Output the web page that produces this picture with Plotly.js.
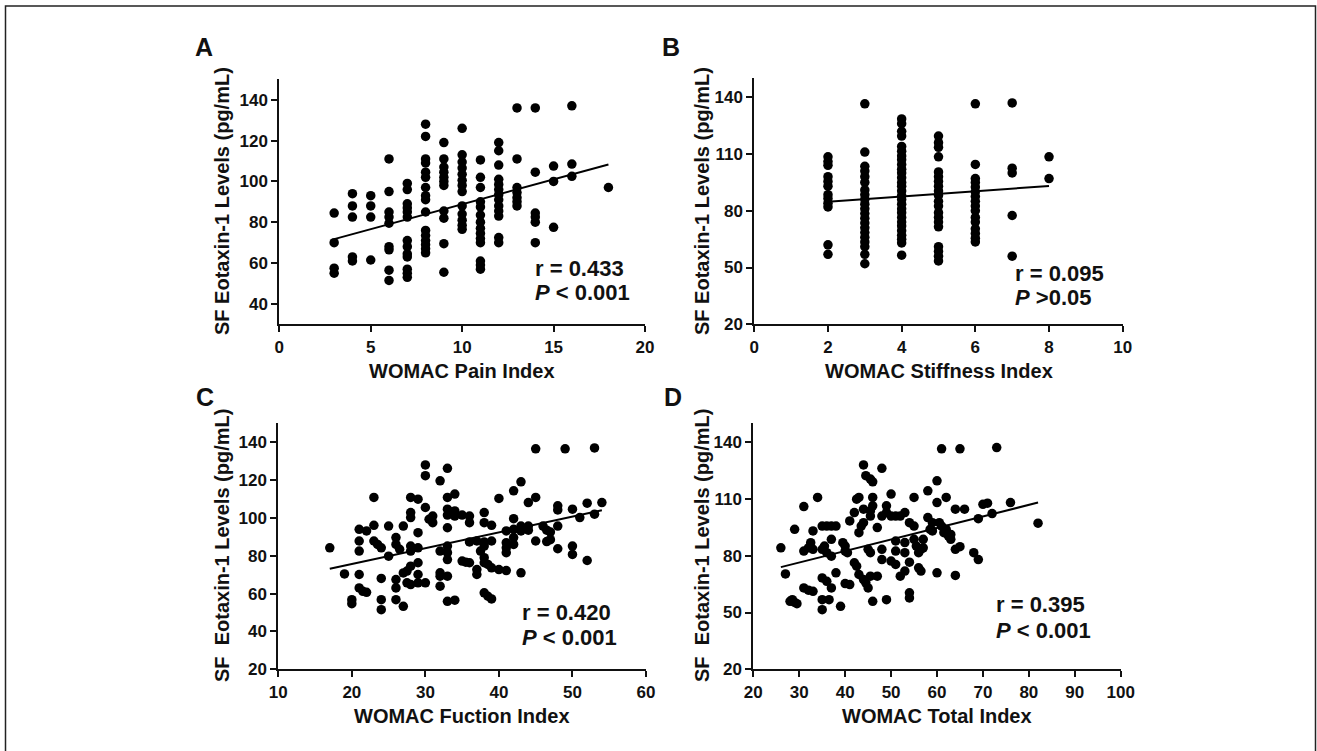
<!DOCTYPE html>
<html>
<head>
<meta charset="utf-8">
<script src="https://cdn.plot.ly/plotly-3.0.1.min.js"></script>
<style>
html,body{margin:0;padding:0;background:#fff;overflow:hidden;}
#chart{width:1317px;height:751px;}
</style>
</head>
<body>
<div id="chart"></div>
<script>
// ---------------- DATA ----------------
const painIndex = [
3,3,3,3,
4,4,4,4,4,
5,5,5,5,
6,6,6,6,6,6,6,6,6,
7,7,7,7,7,7,7,7,7,7,7,7,7,
8,8,8,8,8,8,8,8,8,8,8,8,8,8,8,8,
9,9,9,9,9,9,9,9,9,9,9,
10,10,10,10,10,10,10,10,10,10,10,10,10,
11,11,11,11,11,11,11,11,11,11,11,11,11,11,
12,12,12,12,12,12,12,12,12,12,12,12,12,
13,13,13,13,13,13,13,
14,14,14,14,14,14,
15,15,15,
16,16,16,
18];
const painEotaxin = [
84.5,70,57.5,55,
94,88,82.5,63,61,
93,88,82.5,61.5,
111,95,85,82.5,79.5,68,66.5,56.5,51.5,
99,96,89,87,85,82.5,71,68,64.5,63,57,55,53,
128,122,111,109,104.5,102,97,93,91,85,76,73.5,71,69,67,65,
119,111,107,104.5,102,100,98,85.5,82,69.5,55.5,
126,113,109.5,106.5,103.5,100.5,98,95,88,84,81,78.5,76.5,
110.5,102,97,90,87.5,83.5,80,77,74.5,72,70,61,59,57,
119,115,108,101,98.5,96,93.5,91,88,85.5,83,72.5,70,
136,111,97,94.5,92,90,88,
136,104.5,84.5,82.5,80,70,
107.5,100,77.5,
137,108.5,102.5,
97];
const painFitX = [3, 18];
const painFitY = [71.7, 108.3];

const stiffIndex = [
2,2,2,2,2,2,2,2,2,2,2,2,
3,3,3,3,3,3,3,3,3,3,3,3,3,3,3,3,3,3,3,3,3,
4,4,4,4,4,4,4,4,4,4,4,4,4,4,4,4,4,4,4,4,4,4,4,4,4,4,4,4,
5,5,5,5,5,5,5,5,5,5,5,5,5,5,5,5,5,5,5,5,
6,6,6,6,6,6,6,6,6,6,6,6,6,6,6,6,
7,7,7,7,7,
8,8];
const stiffEotaxin = [
108.5,106,104,98,95.5,93,88.5,86.5,84,82,62,57,
136.5,111,103.5,101,98,95,91,88.5,86,83.5,81,78.5,76,73.5,71,68.5,66,63.5,61,57,52,
128.5,126,122,119.5,114,111.5,109,107,104.5,102,100,97.5,95,93,90.5,88,86,83.5,81,79,76.5,74,72,69.5,67,65,63,56.5,
119.5,116,113.5,108.5,100.5,98,95.5,93,90.5,88,85,82.5,79,76.5,74,71.5,61,58.5,56,53.5,
136.5,104.5,97,95,92.5,90,87.5,85,82.5,80,76.5,74,70.5,68,65.5,63.5,
137,102.5,100,77.5,56,
108.5,97];
const stiffFitX = [2, 8];
const stiffFitY = [84.8, 93.1];

const funcIndex = [
17,19,20,20,21,21,21,21,21,21.5,22,22,23,23,23,23.5,24,24,24,24,
25,25,26,26,26.5,26,26,26,27,27,27,27.5,28,29,28,28,28,28,28,29,
27.5,28,29,29,29,29,30,30,30,30,30.5,31,31,32,32,32,32,32,33,33,
33,33.5,34,33,34,34,33,33,33,33,33,33,34,35,36,36,35,35.5,36,36,
37,38,37,37,38,38,39,37.5,38,38,38,38.5,39,39,38,38.5,39,40,41,40,
41,41,41,41,42,43,42,42,42,42,43,43,43,44,45,44,44,45,45,49,
53,46,46.5,47,47,46.5,48,48,48,48,50,50,50,51,52,52,53,54];
const funcEotaxin = [
84.2,70.4,56.8,54.7,94,87.8,82.5,70.1,63,61.2,60.7,93.1,96.1,110.8,87.8,86,84.2,68,56.8,51.5,
95.7,79.8,89.6,86,83.4,67.4,63,56.8,53.3,95.7,70.9,71.9,110.8,109.9,102.8,100.2,85.1,82.5,74.5,76.3,
65.7,64.8,65.7,92.2,84.2,70.1,128,122.3,105.5,65.7,99.3,101,97.5,119.6,82.5,71,69.2,63.9,126.2,110.8,
104.6,103,103.7,101.5,101,112.6,94.8,85.1,81.6,78,69.2,55.9,56.5,101.5,101,97.5,77.2,76.6,76.3,87.3,
87.8,87.3,70.1,72.7,102.8,97.5,96.1,82.5,85.1,79,60.4,58.6,57.2,87.8,76.3,75.4,73.6,72.7,72.2,110.3,
93.1,84.2,86.9,81.6,114.3,119.1,99.6,94,89.6,86,71,95.7,93.1,108.1,110.8,95.7,93.5,87.8,136.5,136.5,
137,95.7,93.5,92.5,88.5,87.5,106.4,104.2,95.7,83.7,104.6,85.1,80.7,100.2,107.8,77.5,102,108.1];
const funcFitX = [17, 54];
const funcFitY = [73.1, 104.1];

const totalIndex = [
26,27,28,29,28.5,29.5,29,31,31,32,31,32,33,32.5,33,33,34,35,36,37,
38,35,35.5,36,37,37,35,36,35,36.5,35,37,38,39,39.5,40,40.5,40,40,41,
41,42,42.5,43,42,42.5,43,43.5,44,44,43,44,44.5,44,44.5,45.5,46,45.5,46,46,
45.5,45,45.5,45,45.5,46,47,47,48,48,49,49,48,48,49,50,50,51,50,51,
51,51,52,53,52,53,53,53,54,54,54,54,55,55,55,55.5,56,56.5,56,56.5,
57,57,58,58,59,58.5,59,60,60,60,60.5,61,62,61,62,61.5,62.5,63,63,64,
64,64,65,65,66,68,69,69,70,71,72,73,76,82];
const totalEotaxin = [
84.2,70.4,55.9,55.4,56.8,54.7,94,106,82.5,84.2,63,61.8,61.2,86.9,93.1,83.4,110.8,95.7,95.7,95.7,
95.7,83.4,85.1,81.6,79.8,88.7,68.3,66.5,56.8,56.8,51.5,63,71,53.3,86.9,85.1,81.6,82.5,65.3,64.8,
98.4,102.8,109.9,110.8,76.3,74.5,92.2,95.7,104.6,97.5,70.1,67.4,65.7,128,122.3,120.5,119.1,103.7,106.4,110.8,
101,83.4,81.6,63,69.2,55.9,69.2,94.9,126.2,101,106.4,102.8,83.4,78,56.8,112.6,101,101,77.2,75.4,
87.8,82.5,69.2,71.9,101,102.8,87,81.6,76.6,60.4,57.7,97.5,95.7,110.8,88.7,85.1,81.6,83.4,73.6,71.9,
88.7,84.2,114.3,100.2,97.5,94,93.1,119.6,108.1,71,97.5,95.7,94,136.5,110.8,92.2,90.4,88.7,91.3,83.4,
104.6,69.6,84.8,136.5,104.6,81.6,78,99.6,107.2,107.8,102.3,137.2,108.1,97.2];
const totalFitX = [26, 82];
const totalFitY = [74, 108.1];

const xTitles = ['WOMAC Pain Index', 'WOMAC Stiffness Index', 'WOMAC Fuction Index', 'WOMAC Total Index'];
const yTitles = ['SF Eotaxin-1 Levels (pg/mL)', 'SF Eotaxin-1 Levels (pg/mL)', 'SF\u00a0\u00a0Eotaxin-1 Levels (pg/mL)', 'SF\u00a0\u00a0Eotaxin-1 Levels (pg/mL)'];
const panelLetters = ['A', 'B', 'C', 'D'];
const rTexts = ['r = 0.433', 'r = 0.095', 'r = 0.420', 'r = 0.395'];
const pTexts = ['<i>P</i> < 0.001', '<i>P</i> >0.05', '<i>P</i> < 0.001', '<i>P</i> < 0.001'];

// ---------------- LAYOUT ----------------
const W = 1317, H = 751;
const FONT = 'Liberation Sans, Arial, Helvetica, sans-serif';
const INK = '#111';
const px = v => v / W;
const py = v => 1 - v / H;

// pixel boxes [left, right, top, bottom]
const boxes = [
  [279.3, 645, 79.3, 324.3],
  [754.3, 1122.7, 78.3, 324.3],
  [278.3, 646, 423.3, 669.3],
  [753.3, 1120.7, 423.3, 669.3]
];
const xRanges = [[0, 20], [0, 10], [10, 60], [20, 100]];
const xDticks = [5, 2, 10, 10];
const yRanges = [[30, 150], [20, 150], [20, 150], [20, 150]];
const yTick0 = [0, 20, 0, 20];
const yDticks = [20, 30, 20, 30];

const series = [
  [painIndex, painEotaxin, painFitX, painFitY],
  [stiffIndex, stiffEotaxin, stiffFitX, stiffFitY],
  [funcIndex, funcEotaxin, funcFitX, funcFitY],
  [totalIndex, totalEotaxin, totalFitX, totalFitY]
];

const tickFont = {family: FONT, size: 17, color: INK, weight: 'bold'};
const axBase = {
  showline: true, linewidth: 2, linecolor: INK,
  ticks: 'outside', ticklen: 6, tickwidth: 2, tickcolor: INK,
  showgrid: false, zeroline: false, fixedrange: true,
  tickfont: tickFont
};

const traces = [];
const layout = {
  width: W, height: H, autosize: false,
  margin: {l: 0, r: 0, t: 0, b: 0, pad: 0},
  paper_bgcolor: '#fff', plot_bgcolor: '#fff',
  showlegend: false,
  font: {family: FONT, color: INK},
  annotations: [],
  shapes: [{
    type: 'rect', xref: 'paper', yref: 'paper',
    x0: px(5.5), x1: px(1315.5), y0: -0.1, y1: py(6),
    line: {color: '#222', width: 1.5}, fillcolor: 'rgba(0,0,0,0)', layer: 'above'
  }]
};

const letterPos = [[204, 47], [671, 47], [205, 397], [673, 397]];
const statPos = [[533, 268, 293], [1013, 273, 298], [520, 612, 637], [994, 604, 630]];
const xTitlePos = [[462, 371], [938.5, 371], [462, 716], [937, 716]];
const yTitlePos = [[222, 201], [702, 201], [222, 546], [702, 546]];

for (let i = 0; i < 4; i++) {
  const s = i === 0 ? '' : String(i + 1);
  const b = boxes[i];
  layout['xaxis' + s] = Object.assign({}, axBase, {
    domain: [px(b[0]), px(b[1])], range: xRanges[i],
    tick0: 0, dtick: xDticks[i], anchor: 'y' + s
  });
  layout['yaxis' + s] = Object.assign({}, axBase, {
    domain: [py(b[3]), py(b[2])], range: yRanges[i],
    tick0: yTick0[i], dtick: yDticks[i], anchor: 'x' + s
  });
  const d = series[i];
  traces.push({
    type: 'scatter', mode: 'markers', x: d[0], y: d[1],
    xaxis: 'x' + s, yaxis: 'y' + s,
    marker: {size: 9.5, color: '#000'}, hoverinfo: 'skip', cliponaxis: false
  });
  traces.push({
    type: 'scatter', mode: 'lines', x: d[2], y: d[3],
    xaxis: 'x' + s, yaxis: 'y' + s,
    line: {color: '#000', width: 2}, hoverinfo: 'skip'
  });
  const A = layout.annotations;
  A.push({xref: 'paper', yref: 'paper', x: px(letterPos[i][0]), y: py(letterPos[i][1]),
    xanchor: 'center', yanchor: 'middle', showarrow: false,
    text: '<b>' + panelLetters[i] + '</b>', font: {family: FONT, size: 25, color: INK, weight: 'bold'}});
  A.push({xref: 'paper', yref: 'paper', x: px(statPos[i][0]), y: py(statPos[i][1]),
    xanchor: 'left', yanchor: 'middle', showarrow: false,
    text: '<b>' + rTexts[i] + '</b>', font: {family: FONT, size: 22, color: INK, weight: 'bold'}});
  A.push({xref: 'paper', yref: 'paper', x: px(statPos[i][0]), y: py(statPos[i][2]),
    xanchor: 'left', yanchor: 'middle', showarrow: false,
    text: '<b>' + pTexts[i] + '</b>', font: {family: FONT, size: 22, color: INK, weight: 'bold'}});
  A.push({xref: 'paper', yref: 'paper', x: px(xTitlePos[i][0]), y: py(xTitlePos[i][1]),
    xanchor: 'center', yanchor: 'middle', showarrow: false,
    text: '<b>' + xTitles[i] + '</b>', font: {family: FONT, size: 20, color: INK, weight: 'bold'}});
  A.push({xref: 'paper', yref: 'paper', x: px(yTitlePos[i][0]), y: py(yTitlePos[i][1]),
    xanchor: 'center', yanchor: 'middle', showarrow: false, textangle: -90,
    text: '<b>' + yTitles[i] + '</b>', font: {family: FONT, size: 20, color: INK, weight: 'bold'}});
}

Plotly.newPlot('chart', traces, layout, {staticPlot: true, displayModeBar: false});
</script>
</body>
</html>
